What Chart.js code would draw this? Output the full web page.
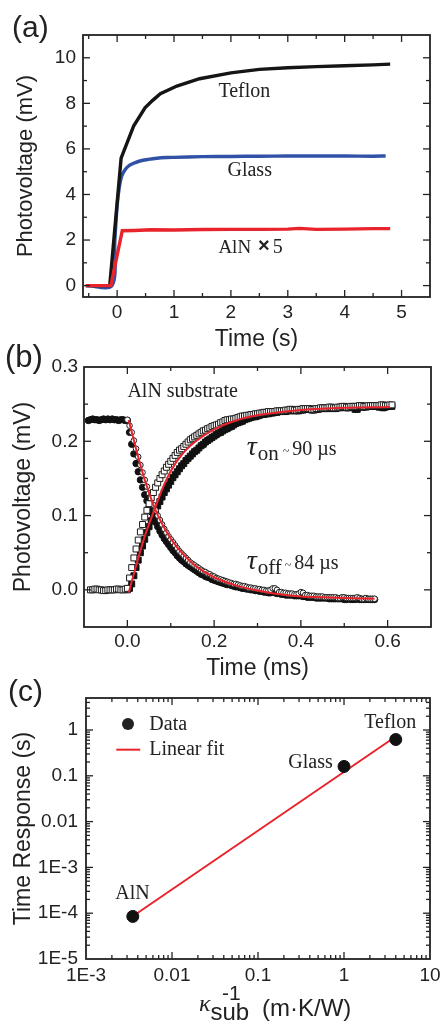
<!DOCTYPE html>
<html>
<head>
<meta charset="utf-8">
<script src="https://cdn.jsdelivr.net/npm/chart.js@4.4.0/dist/chart.umd.min.js"></script>
<style>
  html, body { margin: 0; padding: 0; background: #fff; }
  #wrap { position: relative; width: 440px; height: 1024px; overflow: hidden; }
  #wrap canvas { position: absolute; left: 0; }
</style>
</head>
<body>
<div id="wrap">
  <canvas id="panelA" width="440" height="360" style="top:0px"></canvas>
  <canvas id="panelB" width="440" height="350" style="top:340px"></canvas>
  <canvas id="panelC" width="440" height="354" style="top:670px"></canvas>
</div>
<script>
const SANS = '"Liberation Sans", Arial, sans-serif';
const SERIF = '"Liberation Serif", "Times New Roman", serif';
const INK = '#222';
const RED = '#e8232b';

// (a) photovoltage transients, seconds / mV
const timeTeflon = [-0.55, -0.13, 0.07, 0.29, 0.49, 0.62, 0.76, 1.05, 1.45, 2.0, 2.5, 3.0, 3.5, 4.0, 4.5, 4.8];
const pvTeflon = [0, 0, 5.6, 7.0, 7.8, 8.12, 8.42, 8.76, 9.08, 9.34, 9.49, 9.56, 9.61, 9.65, 9.69, 9.72];
const timeGlass = [-0.55, -0.09, -0.04, 0.0, 0.04, 0.08, 0.13, 0.2, 0.29, 0.4, 0.55, 0.7, 0.87, 1.0, 1.5, 2.0, 2.5, 3.0, 3.5, 4.0, 4.5, 4.72];
const pvGlass = [0, 0, 2.0, 3.5, 4.35, 4.8, 5.05, 5.25, 5.37, 5.47, 5.54, 5.59, 5.62, 5.63, 5.66, 5.67, 5.68, 5.69, 5.69, 5.69, 5.68, 5.69];
const timeAlN = [-0.55, -0.11, 0.09, 0.3, 0.6, 1.0, 1.5, 2.0, 2.5, 3.0, 3.2, 3.5, 4.0, 4.5, 4.8];
const pvAlN = [0, 0, 2.41, 2.42, 2.45, 2.44, 2.46, 2.47, 2.47, 2.48, 2.51, 2.47, 2.48, 2.5, 2.5];
const ticksAX = [0, 1, 2, 3, 4, 5];
const labelsAX = ['0', '1', '2', '3', '4', '5'];
const minorAX = [-0.5, 0.5, 1.5, 2.5, 3.5, 4.5];
const ticksAY = [0, 2, 4, 6, 8, 10];
const labelsAY = ['0', '2', '4', '6', '8', '10'];
const minorAY = [1, 3, 5, 7, 9];

// (b) AlN substrate, light on / light off, ms / mV (null = no sample)
const timeB = [
  -0.090, -0.085, -0.080, -0.075, -0.070, -0.065, -0.060, -0.055, -0.050, -0.045,
  -0.040, -0.035, -0.030, -0.025, -0.020, -0.015, -0.010, -0.005, 0.000, 0.005,
  0.010, 0.015, 0.020, 0.025, 0.030, 0.035, 0.040, 0.045, 0.050, 0.055,
  0.060, 0.065, 0.070, 0.075, 0.080, 0.085, 0.090, 0.095, 0.100, 0.105,
  0.110, 0.115, 0.120, 0.125, 0.130, 0.135, 0.140, 0.145, 0.150, 0.155,
  0.160, 0.165, 0.170, 0.175, 0.180, 0.185, 0.190, 0.195, 0.200, 0.205,
  0.210, 0.215, 0.220, 0.225, 0.230, 0.235, 0.240, 0.245, 0.250, 0.255,
  0.260, 0.265, 0.270, 0.275, 0.280, 0.285, 0.290, 0.295, 0.300, 0.305,
  0.310, 0.315, 0.320, 0.325, 0.330, 0.335, 0.340, 0.345, 0.350, 0.355,
  0.360, 0.365, 0.370, 0.375, 0.380, 0.385, 0.390, 0.395, 0.400, 0.405,
  0.410, 0.415, 0.420, 0.425, 0.430, 0.435, 0.440, 0.445, 0.450, 0.455,
  0.460, 0.465, 0.470, 0.475, 0.480, 0.485, 0.490, 0.495, 0.500, 0.505,
  0.510, 0.515, 0.520, 0.525, 0.530, 0.535, 0.540, 0.545, 0.550, 0.555,
  0.560, 0.565, 0.570, 0.575, 0.580, 0.585, 0.590, 0.595, 0.600, 0.605,
  0.610];
const onOpen = [
  null, 0.000, 0.000, 0.001, 0.001, 0.000, 0.000, -0.001, -0.001, 0.000,
  0.000, 0.000, 0.000, 0.001, 0.001, 0.000, 0.000, 0.001, 0.002, 0.016,
  0.030, 0.043, 0.055, 0.067, 0.078, 0.088, 0.098, 0.107, 0.116, 0.124,
  0.131, 0.138, 0.144, 0.150, 0.155, 0.160, 0.165, 0.169, 0.173, 0.177,
  0.181, 0.185, 0.188, 0.190, 0.193, 0.196, 0.199, 0.202, 0.204, 0.206,
  0.208, 0.210, 0.212, 0.214, 0.215, 0.217, 0.218, 0.220, 0.221, 0.222,
  0.223, 0.225, 0.226, 0.228, 0.229, 0.229, 0.230, 0.230, 0.231, 0.232,
  0.233, 0.234, 0.234, 0.235, 0.235, 0.236, 0.236, 0.237, 0.237, 0.238,
  0.238, 0.239, 0.239, 0.240, 0.240, 0.240, 0.240, 0.241, 0.241, 0.241,
  0.241, 0.242, 0.242, 0.243, 0.243, 0.242, 0.242, 0.243, 0.243, 0.244,
  0.244, 0.244, 0.244, 0.243, 0.243, 0.244, 0.244, 0.245, 0.245, 0.245,
  0.245, 0.246, 0.246, 0.245, 0.245, 0.246, 0.246, 0.247, 0.247, 0.246,
  0.246, 0.247, 0.247, 0.247, 0.247, 0.248, 0.248, 0.247, 0.247, 0.248,
  0.248, 0.248, 0.248, 0.248, 0.248, 0.249, 0.249, 0.248, 0.248, 0.249,
  0.249];
const onFilled = [
  null, null, null, null, null, null, null, null, null, null,
  null, null, null, null, null, null, null, null, 0.000, 0.002,
  0.008, 0.019, 0.030, 0.040, 0.050, 0.059, 0.068, 0.077, 0.085, 0.093,
  0.100, 0.107, 0.113, 0.119, 0.125, 0.131, 0.136, 0.141, 0.146, 0.151,
  0.155, 0.159, 0.163, 0.167, 0.170, 0.174, 0.177, 0.180, 0.183, 0.186,
  0.188, 0.191, 0.194, 0.196, 0.199, 0.201, 0.203, 0.205, 0.207, 0.209,
  0.211, 0.212, 0.214, 0.216, 0.217, 0.219, 0.220, 0.222, 0.224, 0.225,
  0.226, 0.227, 0.229, 0.230, 0.231, 0.232, 0.233, 0.233, 0.234, 0.235,
  0.236, 0.236, 0.237, 0.237, 0.238, 0.238, 0.239, 0.239, 0.240, 0.240,
  0.240, 0.240, 0.241, 0.241, 0.242, 0.241, 0.241, 0.241, 0.242, 0.242,
  0.243, 0.243, 0.243, 0.242, 0.242, 0.243, 0.243, 0.244, 0.244, 0.244,
  0.244, 0.244, 0.245, 0.244, 0.244, 0.245, 0.245, 0.246, 0.246, 0.245,
  0.245, 0.246, 0.246, 0.243, 0.243, 0.247, 0.246, 0.246, 0.246, 0.247,
  0.247, 0.247, 0.247, 0.247, 0.246, 0.246, 0.245, 0.246, 0.247, 0.247,
  0.247];
const offOpen = [
  null, null, null, null, null, null, null, null, null, null,
  null, null, null, null, null, null, null, null, 0.229, 0.221,
  0.212, 0.201, 0.190, 0.179, 0.168, 0.158, 0.148, 0.139, 0.130, 0.122,
  0.114, 0.107, 0.100, 0.094, 0.088, 0.082, 0.077, 0.072, 0.068, 0.064,
  0.060, 0.056, 0.052, 0.049, 0.046, 0.043, 0.040, 0.037, 0.035, 0.033,
  0.031, 0.029, 0.027, 0.025, 0.024, 0.022, 0.021, 0.019, 0.018, 0.016,
  0.015, 0.014, 0.013, 0.012, 0.011, 0.010, 0.009, 0.008, 0.008, 0.007,
  0.006, 0.005, 0.005, 0.004, 0.003, 0.003, 0.002, 0.002, 0.001, 0.001,
  0.000, 0.000, -0.001, -0.001, 0.000, 0.002, 0.002, 0.000, -0.003, -0.003,
  -0.004, -0.004, -0.005, -0.005, -0.005, -0.006, -0.006, -0.005, -0.003, -0.004,
  -0.007, -0.007, -0.008, -0.008, -0.008, -0.009, -0.009, -0.009, -0.009, -0.010,
  -0.010, -0.010, -0.010, -0.010, -0.010, -0.011, -0.011, -0.010, -0.010, -0.011,
  -0.011, -0.011, -0.011, -0.011, -0.010, -0.011, -0.012, -0.012, -0.011, -0.012,
  -0.012, -0.012, -0.012, null, null, null, null, null, null, null,
  null];
const offFilled = [
  0.228, 0.229, 0.230, 0.229, 0.229, 0.228, 0.229, 0.230, 0.229, 0.230,
  0.229, 0.230, 0.229, 0.229, 0.228, 0.229, 0.229, 0.228, 0.228, 0.212,
  0.196, 0.183, 0.170, 0.159, 0.148, 0.138, 0.128, 0.120, 0.112, 0.105,
  0.098, 0.091, 0.085, 0.079, 0.074, 0.069, 0.065, 0.061, 0.057, 0.053,
  0.050, 0.046, 0.043, 0.040, 0.038, 0.035, 0.033, 0.031, 0.029, 0.027,
  0.025, 0.023, 0.021, 0.020, 0.018, 0.017, 0.016, 0.014, 0.013, 0.012,
  0.011, 0.010, 0.009, 0.008, 0.007, 0.007, 0.006, 0.005, 0.004, 0.004,
  0.003, 0.002, 0.002, 0.001, 0.001, 0.000, 0.000, -0.001, -0.001, -0.002,
  -0.002, -0.003, -0.003, -0.004, -0.004, -0.003, -0.004, -0.005, -0.005, -0.006,
  -0.006, -0.007, -0.007, -0.007, -0.007, -0.008, -0.008, -0.008, -0.008, -0.009,
  -0.009, -0.010, -0.010, -0.010, -0.010, -0.011, -0.011, -0.011, -0.011, -0.011,
  -0.011, -0.012, -0.012, -0.012, -0.012, -0.012, -0.012, -0.012, -0.013, -0.013,
  -0.012, -0.013, -0.013, -0.013, -0.012, -0.013, -0.013, -0.013, -0.013, -0.013,
  -0.013, -0.013, -0.013, null, null, null, null, null, null, null,
  null];
const timeFitOn = [0.003, 0.02, 0.04, 0.065, 0.08, 0.1, 0.13, 0.16, 0.2, 0.25, 0.3, 0.35, 0.4, 0.5, 0.605];
const fitOn = [-0.004, 0.032, 0.072, 0.112, 0.135, 0.160, 0.185, 0.201, 0.216, 0.228, 0.235, 0.239, 0.242, 0.245, 0.246];
const timeFitOff = [0.003, 0.02, 0.04, 0.063, 0.08, 0.1, 0.13, 0.16, 0.2, 0.25, 0.3, 0.35, 0.4, 0.45, 0.5, 0.57];
const fitOff = [0.2285, 0.19, 0.148, 0.110, 0.089, 0.069, 0.047, 0.031, 0.017, 0.006, -0.001, -0.006, -0.009, -0.010, -0.011, -0.012];
const ticksBX = [0, 0.2, 0.4, 0.6];
const labelsBX = ['0.0', '0.2', '0.4', '0.6'];
const minorBX = [0.1, 0.3, 0.5];
const ticksBY = [0, 0.1, 0.2, 0.3];
const labelsBY = ['0.0', '0.1', '0.2', '0.3'];
const minorBY = [-0.05, 0.05, 0.15, 0.25];

// (c) response time vs inverse substrate conductivity
const substrates = ['AlN', 'Glass', 'Teflon'];
const kappaInv = [0.0035, 1.0, 4.0];
const responseTime = [8.5e-5, 0.16, 0.62];
const fitKappaInv = [0.0036, 4.0];
const fitResponse = [8.9e-5, 0.72];
const ticksCX = [1e-3, 1e-2, 0.1, 1, 10];
const labelsCX = ['1E-3', '0.01', '0.1', '1', '10'];
const ticksCY = [1e-5, 1e-4, 1e-3, 0.01, 0.1, 1];
const labelsCY = ['1E-5', '1E-4', '1E-3', '0.01', '0.1', '1'];

const pts = (xs, ys) => xs.map((x, i) => ({ x, y: ys[i] }));

function logMinors(scale) {
  const out = [];
  for (let e = Math.floor(Math.log10(scale.min)); e <= Math.ceil(Math.log10(scale.max)); e++) {
    for (let m = 2; m <= 9; m++) {
      const v = m * Math.pow(10, e);
      if (v > scale.min && v < scale.max) out.push(v);
    }
  }
  return out;
}

// box around the plot with inward ticks on all four sides
function makeFrame(xMinor, yMinor) {
  return {
    id: 'frame',
    afterDatasetsDraw(chart) {
      const { ctx, chartArea: a, scales: { x, y } } = chart;
      ctx.save();
      ctx.strokeStyle = INK;
      ctx.lineWidth = 1.3;
      const seg = (x1, y1, x2, y2) => { ctx.beginPath(); ctx.moveTo(x1, y1); ctx.lineTo(x2, y2); ctx.stroke(); };
      const marks = (scale, vals, len) => vals.forEach(v => {
        const p = scale.getPixelForValue(v);
        if (scale.isHorizontal()) {
          if (p <= a.left + 1 || p >= a.right - 1) return;
          seg(p, a.bottom, p, a.bottom - len);
          seg(p, a.top, p, a.top + len);
        } else {
          if (p <= a.top + 1 || p >= a.bottom - 1) return;
          seg(a.left, p, a.left + len, p);
          seg(a.right, p, a.right - len, p);
        }
      });
      marks(x, x.ticks.map(t => t.value), 7);
      marks(y, y.ticks.map(t => t.value), 7);
      marks(x, xMinor || logMinors(x), 4);
      marks(y, yMinor || logMinors(y), 4);
      ctx.lineWidth = 1.8;
      ctx.strokeRect(a.left, a.top, a.right - a.left, a.bottom - a.top);
      ctx.restore();
    }
  };
}

// text runs: [text, font, dy, dx]
function drawRuns(ctx, x, y, runs) {
  let cx = x;
  runs.forEach(r => {
    ctx.font = r[1];
    cx += r[3] || 0;
    ctx.fillText(r[0], cx, y + (r[2] || 0));
    cx += ctx.measureText(r[0]).width;
  });
}

function makeNotes(items) {
  return {
    id: 'notes',
    afterDraw(chart) {
      const { ctx, scales: { x, y } } = chart;
      ctx.save();
      ctx.fillStyle = INK;
      ctx.textAlign = 'left';
      ctx.textBaseline = 'alphabetic';
      items.forEach(it => {
        const px = it.px != null ? it.px : x.getPixelForValue(it.x);
        const py = it.py != null ? it.py : y.getPixelForValue(it.y);
        if (it.dot) {
          ctx.beginPath();
          ctx.arc(px, py, it.dot, 0, Math.PI * 2);
          ctx.fill();
        } else if (it.x2) {
          ctx.strokeStyle = it.color;
          ctx.lineWidth = 2;
          ctx.beginPath();
          ctx.moveTo(px, py);
          ctx.lineTo(x.getPixelForValue(it.x2), py);
          ctx.stroke();
        } else {
          drawRuns(ctx, px, py, it.runs);
        }
      });
      ctx.restore();
    }
  };
}

function axis(o) {
  return {
    type: o.log ? 'logarithmic' : 'linear',
    position: o.pos,
    min: o.min,
    max: o.max,
    grid: { display: false, drawTicks: false },
    border: { display: false },
    afterBuildTicks: s => { s.ticks = o.ticks.map(v => ({ value: v })); },
    afterFit: s => {
      if (o.pos === 'left') s.width = o.size; else s.height = o.size;
      s.paddingLeft = 0; s.paddingRight = 0; s.paddingTop = 0; s.paddingBottom = 0;
    },
    ticks: {
      autoSkip: false,
      maxRotation: 0,
      padding: o.pad,
      color: INK,
      font: { family: SANS, size: 19 },
      callback: (v, i) => o.labels[i]
    },
    title: o.title ? {
      display: true,
      text: o.title,
      color: INK,
      font: { family: SANS, size: o.titleSize },
      padding: { top: o.titlePad, bottom: o.titlePad }
    } : { display: false }
  };
}

function baseOptions(padding, x, y) {
  return {
    responsive: false,
    animation: false,
    devicePixelRatio: 1,
    layout: { padding },
    plugins: { legend: { display: false }, tooltip: { enabled: false } },
    scales: { x, y }
  };
}

const f20 = `20px ${SERIF}`;

// (a)
new Chart(document.getElementById('panelA'), {
  type: 'line',
  data: {
    datasets: [
      { data: pts(timeAlN, pvAlN), borderColor: RED, borderWidth: 3.4, pointRadius: 0, tension: 0 },
      { data: pts(timeTeflon, pvTeflon), borderColor: '#151515', borderWidth: 3.4, pointRadius: 0, tension: 0 },
      { data: pts(timeGlass, pvGlass), borderColor: '#3151a6', borderWidth: 3.4, pointRadius: 0, tension: 0.3 }
    ]
  },
  options: baseOptions({ top: 35, right: 10, left: 0, bottom: 0 },
    axis({ pos: 'bottom', min: -0.6, max: 5.5, ticks: ticksAX, labels: labelsAX, size: 63, pad: 4, title: 'Time (s)', titleSize: 23, titlePad: 7 }),
    axis({ pos: 'left', min: -0.5, max: 11, ticks: ticksAY, labels: labelsAY, size: 83, pad: 7, title: 'Photovoltage (mV)', titleSize: 22, titlePad: 13 })),
  plugins: [makeFrame(minorAX, minorAY), makeNotes([
    { px: 12, py: 37, runs: [['(a)', `30px ${SANS}`]] },
    { x: 1.78, y: 8.3, runs: [['Teflon', f20]] },
    { x: 1.94, y: 4.79, runs: [['Glass', f20]] },
    { x: 1.78, y: 1.45, runs: [['AlN', `19px ${SERIF}`], ['\u00d7', `bold 20px ${SANS}`, -1, 7], ['5', f20, 0, 3]] }
  ])]
});

// (b)
const openMark = { pointBackgroundColor: '#fff', pointBorderColor: '#1a1a1a', pointBorderWidth: 1, showLine: false };
new Chart(document.getElementById('panelB'), {
  type: 'scatter',
  data: {
    datasets: [
      { data: pts(timeFitOn, fitOn), showLine: true, borderColor: RED, borderWidth: 2, pointRadius: 0, cubicInterpolationMode: 'monotone' },
      { data: pts(timeFitOff, fitOff), showLine: true, borderColor: RED, borderWidth: 2, pointRadius: 0, cubicInterpolationMode: 'monotone' },
      Object.assign({ data: pts(timeB, onOpen), pointStyle: 'rect', pointRadius: 4.2 }, openMark),
      Object.assign({ data: pts(timeB, offOpen), pointStyle: 'circle', pointRadius: 2.8 }, openMark),
      { data: pts(timeB, onFilled), pointStyle: 'rect', pointRadius: 4.2, pointBackgroundColor: '#111', pointBorderColor: '#111', showLine: false },
      { data: pts(timeB, offFilled), pointStyle: 'circle', pointRadius: 3.2, pointBackgroundColor: '#111', pointBorderColor: '#111', showLine: false }
    ]
  },
  options: baseOptions({ top: 27, right: 9, left: 0, bottom: 0 },
    axis({ pos: 'bottom', min: -0.1, max: 0.7, ticks: ticksBX, labels: labelsBX, size: 63, pad: 3, title: 'Time (ms)', titleSize: 23, titlePad: 8 }),
    axis({ pos: 'left', min: -0.05, max: 0.3, ticks: ticksBY, labels: labelsBY, size: 84, pad: 6, title: 'Photovoltage (mV)', titleSize: 23, titlePad: 10 })),
  plugins: [makeFrame(minorBX, minorBY), makeNotes([
    { px: 5, py: 26.5, runs: [['(b)', `31px ${SANS}`]] },
    { x: 0.0, y: 0.259, runs: [['AlN substrate', f20]] },
    { x: 0.275, y: 0.1817, runs: [['\u03c4', `italic 28px ${SERIF}`], ['on', `21px ${SERIF}`, 5, 1], ['~', `12px ${SERIF}`, 0, 4], ['90 \u00b5s', f20, 0, 3]] },
    { x: 0.275, y: 0.0277, runs: [['\u03c4', `italic 28px ${SERIF}`], ['off', `21px ${SERIF}`, 5, 1], ['~', `12px ${SERIF}`, 0, 3], ['84 \u00b5s', f20, 0, 3]] }
  ])]
});

// (c)
new Chart(document.getElementById('panelC'), {
  type: 'scatter',
  data: {
    labels: substrates,
    datasets: [
      { data: pts(kappaInv, responseTime), pointRadius: 6, pointBackgroundColor: '#111', pointBorderColor: '#111' },
      { data: pts(fitKappaInv, fitResponse), showLine: true, borderColor: RED, borderWidth: 2, pointRadius: 0 }
    ]
  },
  options: baseOptions({ top: 28, right: 10, left: 0, bottom: 0 },
    axis({ pos: 'bottom', log: true, min: 1e-3, max: 10, ticks: ticksCX, labels: labelsCX, size: 65, pad: 5 }),
    axis({ pos: 'left', log: true, min: 1e-5, max: 5, ticks: ticksCY, labels: labelsCY, size: 86, pad: 8, title: 'Time Response (s)', titleSize: 23, titlePad: 10 })),
  plugins: [makeFrame(null, null), makeNotes([
    { px: 8, py: 31, runs: [['(c)', `30px ${SANS}`]] },
    { x: 0.00308, y: 1.35, dot: 6 },
    { x: 0.00545, y: 1.02, runs: [['Data', f20]] },
    { x: 0.00225, x2: 0.00427, y: 0.372, color: RED },
    { x: 0.00545, y: 0.288, runs: [['Linear fit', f20]] },
    { x: 1.72, y: 1.12, runs: [[substrates[2], f20]] },
    { x: 0.225, y: 0.150, runs: [[substrates[1], f20]] },
    { x: 0.00219, y: 2.08e-4, runs: [[substrates[0], f20]] },
    { px: 199, py: 341, runs: [['\u03ba', `italic 24px ${SERIF}`], ['sub', `24px ${SANS}`, 9]] },
    { px: 222, py: 330, runs: [['-1', `21px ${SANS}`]] },
    { px: 262, py: 346, runs: [['(m\u00b7K/W)', `24px ${SANS}`]] }
  ])]
});
</script>
</body>
</html>
